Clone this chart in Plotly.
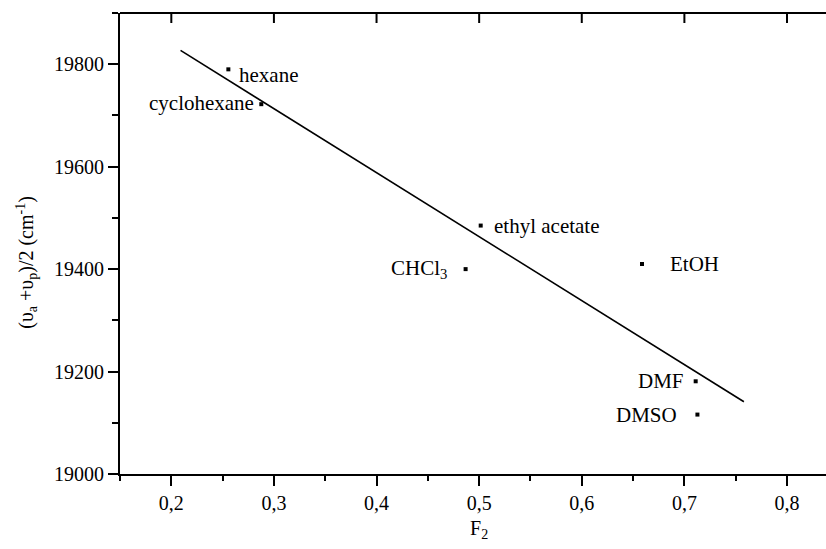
import plotly.graph_objects as go

# Data
solvents = ["hexane", "cyclohexane", "ethyl acetate", "CHCl<sub>3</sub>", "EtOH", "DMF", "DMSO"]
f2 = [0.2556, 0.2877, 0.5015, 0.4868, 0.6587, 0.711, 0.7127]
nu = [19790, 19722, 19485, 19400, 19410, 19181, 19116]

fit_x = [0.209, 0.758]
fit_y = [19827, 19141]

x_range = [0.15, 0.838]
y_range = [19000, 19900]
x_tickvals = [0.2, 0.3, 0.4, 0.5, 0.6, 0.7, 0.8]
x_ticktext = ["0,2", "0,3", "0,4", "0,5", "0,6", "0,7", "0,8"]
y_tickvals = [19000, 19200, 19400, 19600, 19800]
y_ticktext = ["19000", "19200", "19400", "19600", "19800"]

# label placement (anchor side, x shift px, y shift px)
label_pos = {
    "hexane": ("left", 9, -6),
    "cyclohexane": ("right", -5, 1),
    "ethyl acetate": ("left", 11, 0),
    "CHCl<sub>3</sub>": ("right", -17, 0),
    "EtOH": ("left", 26, 0),
    "DMF": ("right", -10, 0),
    "DMSO": ("right", -18, 0),
}

FONT = "Liberation Serif"
PLOT_H = 549 - 13 - 75
TOP_TICK = 10 / PLOT_H

fig = go.Figure()
fig.add_trace(go.Scatter(x=fit_x, y=fit_y, mode="lines",
                         line=dict(color="black", width=1.6), showlegend=False,
                         hoverinfo="skip"))
fig.add_trace(go.Scatter(x=f2, y=nu, mode="markers",
                         marker=dict(symbol="square", size=4, color="black"),
                         showlegend=False))

for name, xv, yv in zip(solvents, f2, nu):
    anc, xs, ys = label_pos[name]
    fig.add_annotation(x=xv, y=yv, xref="x", yref="y", text=name, showarrow=False,
                       xanchor=anc, yanchor="middle", xshift=xs, yshift=ys,
                       font=dict(family=FONT, size=21, color="black"))

fig.add_annotation(x=0.5, y=-0.12, xref="x", yref="paper", text="F<sub>2</sub>",
                   showarrow=False, xanchor="center", yanchor="middle",
                   font=dict(family=FONT, size=20, color="black"))
fig.add_annotation(x=-0.132, y=0.46, xref="paper", yref="paper",
                   text="(υ<sub>a</sub> +υ<sub>p</sub>)/2 (cm<sup>-1</sup>)",
                   textangle=-90, showarrow=False, xanchor="center", yanchor="middle",
                   font=dict(family=FONT, size=20, color="black"))

# top frame line and its inward-pointing ticks
fig.add_shape(type="line", xref="paper", yref="paper", x0=0, x1=1, y0=1, y1=1,
              line=dict(color="black", width=2))
for tv in x_tickvals:
    fig.add_shape(type="line", xref="x", yref="paper", x0=tv, x1=tv,
                  y0=1, y1=1 - TOP_TICK, line=dict(color="black", width=2))

fig.update_layout(
    width=826, height=549,
    margin=dict(l=120, r=0, t=13, b=75),
    paper_bgcolor="white", plot_bgcolor="white",
    font=dict(family=FONT, size=20, color="black"),
    xaxis=dict(range=x_range, tickvals=x_tickvals, ticktext=x_ticktext,
               ticks="outside", ticklen=10, tickwidth=2, tickcolor="black",
               tickfont=dict(family=FONT, size=20, color="black"),
               showline=True, linecolor="black", linewidth=2, showgrid=False,
               zeroline=False,
               minor=dict(ticks="outside", ticklen=5, tickwidth=2, dtick=0.05,
                          tick0=0.15, tickcolor="black", showgrid=False)),
    yaxis=dict(range=y_range, tickvals=y_tickvals, ticktext=y_ticktext,
               ticks="outside", ticklen=10, tickwidth=2, tickcolor="black",
               tickfont=dict(family=FONT, size=20, color="black"),
               showline=True, linecolor="black", linewidth=2, showgrid=False,
               zeroline=False,
               minor=dict(ticks="outside", ticklen=6, tickwidth=2, dtick=100,
                          tick0=19000, tickcolor="black", showgrid=False)),
)

fig.write_html("out.html")
